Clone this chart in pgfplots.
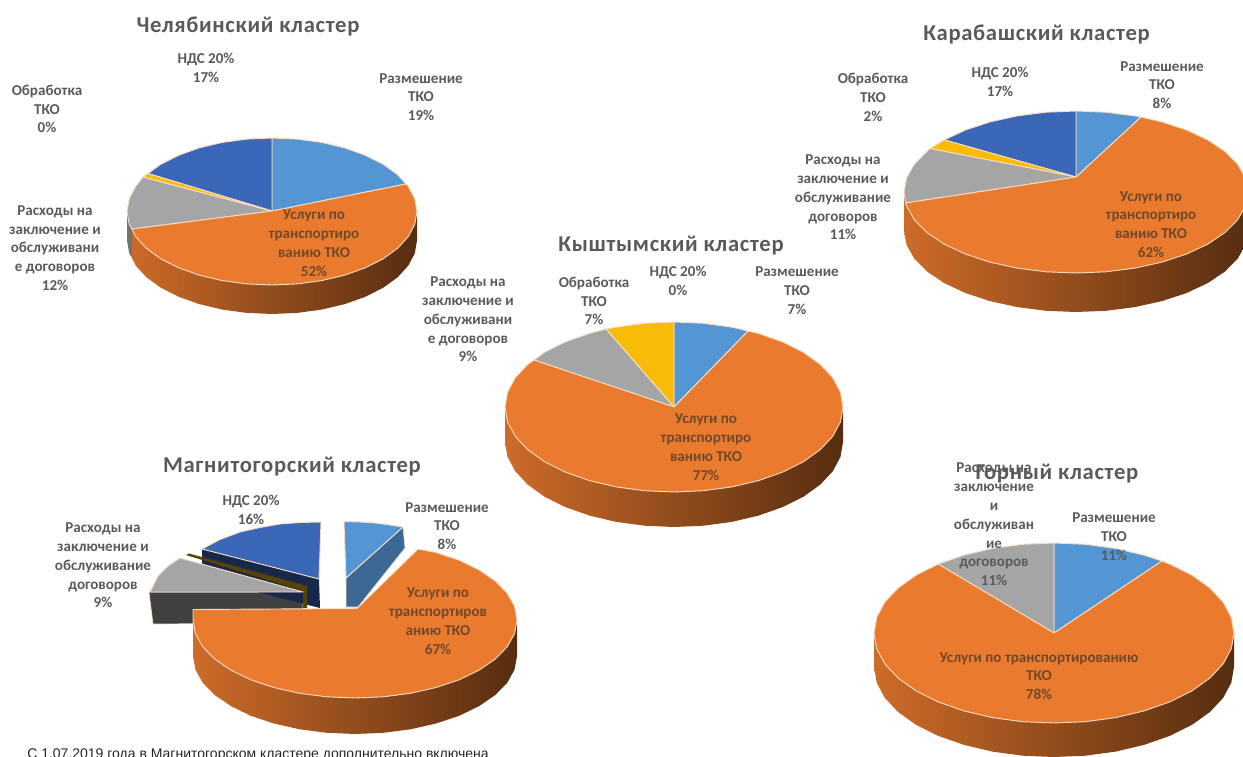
\documentclass[border=0pt]{standalone}
\usepackage{fontspec}
\usepackage{pgfplots}
\pgfplotsset{compat=1.18}
\setmainfont{Carlito}
\newfontfamily\arialf{Liberation Sans}

\definecolor{lblue}{HTML}{5495D3}
\definecolor{dblue}{HTML}{3A67B8}
\definecolor{orng}{HTML}{EA7A2E}
\definecolor{gry}{HTML}{A5A5A5}
\definecolor{yel}{HTML}{F8BC08}
\definecolor{edge}{HTML}{F8DCC4}
\definecolor{txt}{HTML}{5A5A5A}
\definecolor{txto}{HTML}{71492A}

\pgfplotsset{
  slice/.style={draw=edge, line width=0.7pt, line join=round},
  rim/.style={draw=none, left color=#1, middle color=#1!62!black, right color=#1!42!black},
  rim/.default={orng!88!black},
}
\tikzset{
  lbl/.style={text=txt, align=center, inner sep=0pt, font=\fontsize{11.3}{14.1}\selectfont\bfseries},
  lblo/.style={lbl, text=txto},
  ttl/.style={text=txt, inner sep=0pt, font=\fontsize{17}{20}\selectfont\bfseries\addfontfeature{LetterSpace=3}},
}

\begin{document}
\begin{tikzpicture}
\clip[use as bounding box] (0,0) rectangle (932.25pt,567.75pt);
\begin{axis}[
    hide axis, scale only axis,
    width=932.25pt, height=567.75pt,
    xmin=0, xmax=1243, ymin=0, ymax=757,
    y dir=reverse,
]
% Челябинский
\addplot[rim] coordinates {(127,211.5)(417,211.5)(417,240.5)(414.8,253.3)(408.3,265.6)(397.6,277.3)(383.1,287.8)(365.2,296.8)(344.5,304.2)(321.6,309.6)(297.2,312.9)(272,314)(246.8,312.9)(222.4,309.6)(199.5,304.2)(178.8,296.8)(160.9,287.8)(146.4,277.3)(135.7,265.6)(132,258)(132,229)} --cycle;
\addplot[draw=none, fill=gry!70!black] coordinates {(127,211.5)(132,229)(132,258)(129.2,253.3)(127,240.5)} --cycle;
\addplot[slice, fill=lblue] coordinates {(272,211)(272,138)(297.2,139.1)(321.6,142.4)(344.5,147.8)(365.2,155.2)(383.1,164.2)(397.6,174.7)(406,184)} --cycle;
\addplot[slice, fill=dblue] coordinates {(272,211)(272,138)(246.8,139.1)(222.4,142.4)(199.5,147.8)(178.8,155.2)(160.9,164.2)(148,173.5)} --cycle;
\addplot[slice, fill=gry] coordinates {(272,211)(143,177)(135.7,186.4)(129.2,198.7)(127,211.5)(129.2,224.3)(132,229)} --cycle;
\addplot[slice, fill=yel] coordinates {(272,211)(148,173.5)(143,177)} --cycle;
\addplot[slice, fill=orng] coordinates {(272,211)(132,229)(135.7,236.6)(146.4,248.3)(160.9,258.8)(178.8,267.8)(199.5,275.2)(222.4,280.6)(246.8,283.9)(272,285)(297.2,283.9)(321.6,280.6)(344.5,275.2)(365.2,267.8)(383.1,258.8)(397.6,248.3)(408.3,236.6)(414.8,224.3)(417,211.5)(414.8,198.7)(408.3,186.4)(406,184)} --cycle;

% Карабашский
\addplot[rim] coordinates {(904,192)(1248,192)(1248,231)(1245.4,245.1)(1237.7,258.7)(1225,271.5)(1207.8,283.1)(1186.6,293)(1162,301.1)(1134.8,307.1)(1105.9,310.8)(1076,312)(1046.1,310.8)(1017.2,307.1)(990,301.1)(965.4,293)(944.2,283.1)(927,271.5)(914.3,258.7)(906.6,245.1)(904,231)} --cycle;
\addplot[slice, fill=lblue] coordinates {(1076,177)(1076,111)(1105.9,112.2)(1134.8,115.9)(1141,117)} --cycle;
\addplot[slice, fill=dblue] coordinates {(1076,177)(1076,111)(1046.1,112.2)(1017.2,115.9)(990,121.9)(965.4,130)(944.2,139.9)} --cycle;
\addplot[slice, fill=yel] coordinates {(1076,177)(944.2,139.9)(930,148.5)} --cycle;
\addplot[slice, fill=gry] coordinates {(1076,177)(930,148.5)(914.3,164.3)(906.6,177.9)(904,192)(905.5,203)} --cycle;
\addplot[slice, fill=orng] coordinates {(1076,177)(905.5,203)(906.6,206.1)(914.3,219.7)(927,232.5)(944.2,244.1)(965.4,254)(990,262.1)(1017.2,268.1)(1046.1,271.8)(1076,273)(1105.9,271.8)(1134.8,268.1)(1162,262.1)(1186.6,254)(1207.8,244.1)(1225,232.5)(1237.7,219.7)(1245.4,206.1)(1248,192)(1245.4,177.9)(1237.7,164.3)(1225,151.5)(1207.8,139.9)(1186.6,130)(1162,121.9)(1141,117)} --cycle;

% Кыштымский
\addplot[rim] coordinates {(505,407)(843,407)(843,442)(840.5,456.8)(832.9,471.1)(820.4,484.5)(803.5,496.7)(782.6,507.1)(758.5,515.6)(731.8,521.9)(703.4,525.7)(674,527)(644.6,525.7)(616.2,521.9)(589.5,515.6)(565.4,507.1)(544.5,496.7)(527.6,484.5)(515.1,471.1)(507.5,456.8)(505,442)} --cycle;
\addplot[slice, fill=lblue] coordinates {(674,407)(674,322)(703.4,323.3)(731.8,327.1)(748,331)} --cycle;
\addplot[slice, fill=yel] coordinates {(674,407)(674,322)(644.6,323.3)(616.2,327.1)(606,329)} --cycle;
\addplot[slice, fill=gry] coordinates {(674,407)(606,329)(589.5,333.4)(565.4,341.9)(544.5,352.3)(534,360)} --cycle;
\addplot[slice, fill=orng] coordinates {(674,407)(534,360)(527.6,364.5)(515.1,377.9)(507.5,392.2)(505,407)(507.5,421.8)(515.1,436.1)(527.6,449.5)(544.5,461.7)(565.4,472.1)(589.5,480.6)(616.2,486.9)(644.6,490.7)(674,492)(703.4,490.7)(731.8,486.9)(758.5,480.6)(782.6,472.1)(803.5,461.7)(820.4,449.5)(832.9,436.1)(840.5,421.8)(843,407)(840.5,392.2)(832.9,377.9)(820.4,364.5)(803.5,352.3)(782.6,341.9)(758.5,333.4)(748,331)} --cycle;

% Магнитогорский, сектора раздвинуты
\addplot[draw=edge, line width=0.5pt, fill=black!75] coordinates {(149,592)(303,592)(303,623)(153,624)} --cycle;
\addplot[draw=edge, line width=0.5pt, fill=lblue!70!black] coordinates {(346,578)(403,527)(405,548)(358,607)(346,607)} --cycle;
\addplot[slice, fill=lblue] coordinates {(346,578)(344,521.5)(360,522)(375,523)(390,525)(403,527)} --cycle;
\addplot[draw=none, fill=dblue!40!black] coordinates {(202,549)(319,579)(320,608)(202,578)} --cycle;
\addplot[slice, fill=dblue] coordinates {(319,579)(321,522)(300,522.5)(280,524)(260,527.5)(240,532)(220,539.5)(202,549)} --cycle;
\addplot[draw=none, fill=yel!35!black] coordinates {(186,555)(189,553.5)(307,586)(307,608)(303,608)(303,591)} --cycle;
\addplot[slice, fill=gry] coordinates {(303,592)(150,592)(158,576)(168,566)(180,558)} --cycle;
\addplot[rim] coordinates {(193,620)(517,620)(517,656)(514.6,669.5)(507.3,682.7)(495.3,695)(479.1,706.1)(459.2,715.8)(436,723.5)(410.4,729.3)(383.2,732.8)(355,734)(326.8,732.8)(299.6,729.3)(274,723.5)(250.8,715.8)(230.9,706.1)(214.7,695)(202.7,682.7)(195.4,669.5)(193,656)} --cycle;
\addplot[slice, fill=orng] coordinates {(357,608.5)(418,549)(436,552.5)(459.2,560.2)(479.1,569.9)(495.3,581)(507.3,593.3)(514.6,606.5)(517,620)(514.6,633.5)(507.3,646.7)(495.3,659)(479.1,670.1)(459.2,679.8)(436,687.5)(410.4,693.3)(383.2,696.8)(355,698)(326.8,696.8)(299.6,693.3)(274,687.5)(250.8,679.8)(230.9,670.1)(214.7,659)(202.7,646.7)(195.4,633.5)(193,620)(193,609.5)} --cycle;

% Горный
\addplot[rim] coordinates {(874,633)(1234,633)(1234,667)(1231.3,682.7)(1223.2,697.8)(1209.9,712)(1191.9,724.9)(1169.7,735.9)(1144,744.9)(1115.6,751.6)(1085.3,755.7)(1054,757)(1022.7,755.7)(992.4,751.6)(964,744.9)(938.3,735.9)(916.1,724.9)(898.1,712)(884.8,697.8)(876.7,682.7)(874,667)} --cycle;
\addplot[slice, fill=lblue] coordinates {(1054,633)(1054,543)(1085.3,544.3)(1115.6,548.4)(1144,555.1)(1162,561)} --cycle;
\addplot[slice, fill=gry] coordinates {(1054,633)(1054,543)(1022.7,544.3)(992.4,548.4)(964,555.1)(938.3,564.1)} --cycle;
\addplot[slice, fill=orng] coordinates {(1054,633)(938.3,564.1)(916.1,575.1)(898.1,588)(884.8,602.2)(876.7,617.3)(874,633)(876.7,648.7)(884.8,663.8)(898.1,678)(916.1,690.9)(938.3,701.9)(964,710.9)(992.4,717.6)(1022.7,721.7)(1054,723)(1085.3,721.7)(1115.6,717.6)(1144,710.9)(1169.7,701.9)(1191.9,690.9)(1209.9,678)(1223.2,663.8)(1231.3,648.7)(1234,633)(1231.3,617.3)(1223.2,602.2)(1209.9,588)(1191.9,575.1)(1169.7,564.1)(1162,561)} --cycle;

% подписи
\node[ttl] at (axis cs:248,26) {Челябинский кластер};
\node[lbl] at (axis cs:206,67.5) {НДС 20\%\\17\%};
\node[lbl] at (axis cs:421,97) {Размешение\\ТКО\\19\%};
\node[lbl] at (axis cs:47,109) {Обработка\\ТКО\\0\%};
\node[lbl] at (axis cs:55,248) {Расходы на\\заключение и\\обслуживани\\е договоров\\12\%};
\node[lblo] at (axis cs:314,243) {Услуги по\\транспортиро\\ванию ТКО\\52\%};

\node[ttl] at (axis cs:1036.5,34) {Карабашский\ кластер};
\node[lbl] at (axis cs:1000,81.5) {НДС 20\%\\17\%};
\node[lbl] at (axis cs:1162,85) {Размешение\\ТКО\\8\%};
\node[lbl] at (axis cs:873,97.5) {Обработка\\ТКО\\2\%};
\node[lbl] at (axis cs:843,197.5) {Расходы на\\заключение и\\обслуживание\\договоров\\11\%};
\node[lblo] at (axis cs:1151,224.5) {Услуги по\\транспортиро\\ванию ТКО\\62\%};

\node[ttl] at (axis cs:671,246) {Кыштымский кластер};
\node[lbl] at (axis cs:678,280.5) {НДС 20\%\\0\%};
\node[lbl] at (axis cs:797,290.5) {Размешение\\ТКО\\7\%};
\node[lbl] at (axis cs:594,301) {Обработка\\ТКО\\7\%};
\node[lbl] at (axis cs:468,319.5) {Расходы на\\заключение и\\обслуживани\\е договоров\\9\%};
\node[lblo] at (axis cs:706,447) {Услуги по\\транспортиро\\ванию ТКО\\77\%};

\node[ttl] at (axis cs:292,467) {Магнитогорский кластер};
\node[lbl] at (axis cs:251,509.5) {НДС 20\%\\16\%};
\node[lbl] at (axis cs:447,526) {Размешение\\ТКО\\8\%};
\node[lbl] at (axis cs:103,565.5) {Расходы на\\заключение и\\обслуживание\\договоров\\9\%};
\node[lblo] at (axis cs:438,621) {Услуги по\\транспортиров\\анию ТКО\\67\%};

\node[lbl] at (axis cs:994,524.5) {Расходы на\\заключение\\и\\обслуживан\\ие\\договоров\\11\%};
\node[ttl] at (axis cs:1057,474) {Горный кластер};
\node[lbl] at (axis cs:1114,536.5) {Размешение\\ТКО\\11\%};
\node[lblo] at (axis cs:1039,676) {Услуги по транспортированию\\ТКО\\78\%};

\node[anchor=base west, inner sep=0pt, text=black!85, font=\arialf\fontsize{10.5}{12}\selectfont] at (axis cs:27,758) {С 1.07.2019 года в Магнитогорском кластере дополнительно включена};
\end{axis}
\end{tikzpicture}
\end{document}
